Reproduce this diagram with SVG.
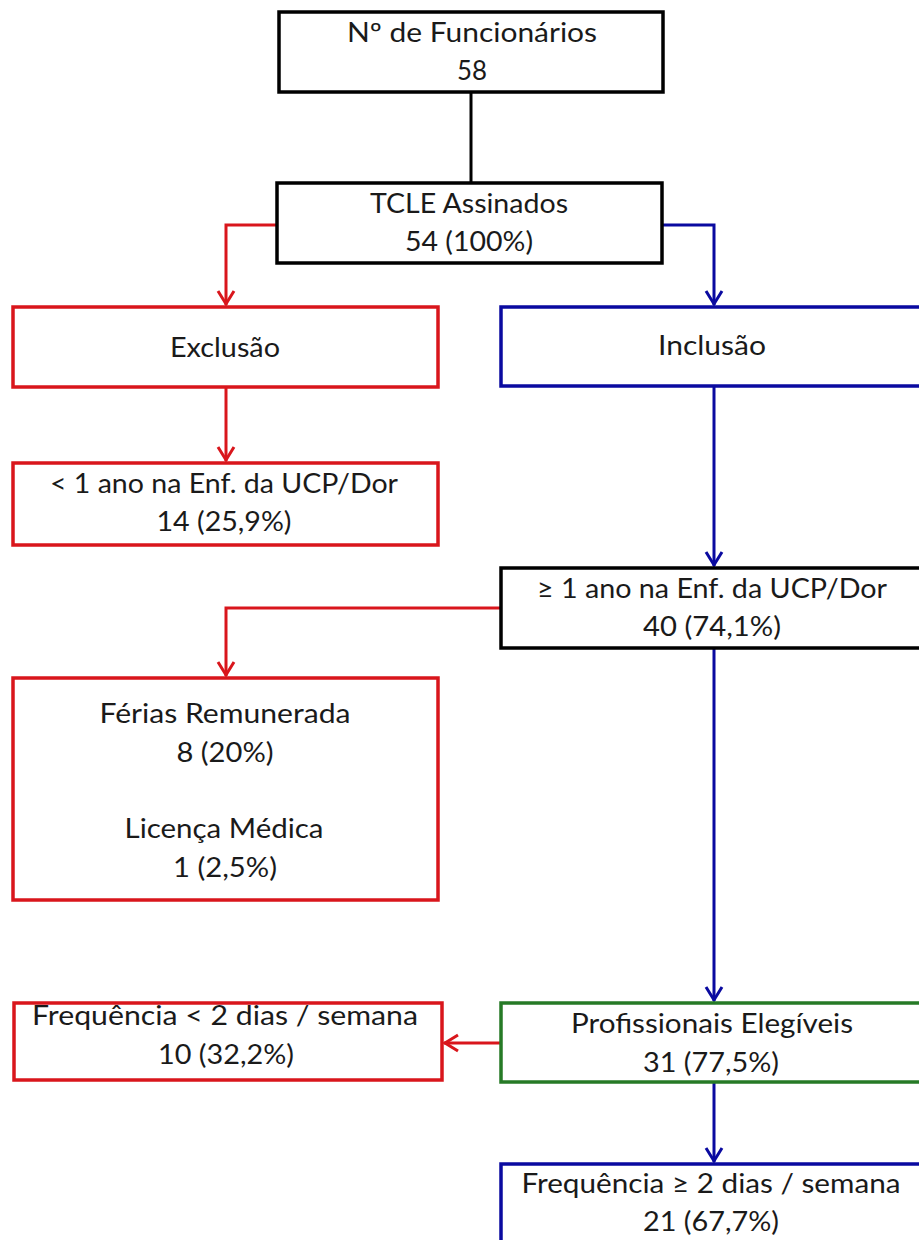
<svg xmlns="http://www.w3.org/2000/svg" width="919" height="1240" viewBox="0 0 919 1240">
<style>
  .t{font-family:Lato,"Open Sans","Liberation Sans",sans-serif;font-size:26px;fill:#1a1a1a;text-anchor:middle}
  .bk{fill:#fff;stroke:#000;stroke-width:3.5}
  .rd{fill:#fff;stroke:#d9161c;stroke-width:3.5}
  .bl{fill:#fff;stroke:#0a0aa0;stroke-width:3.5}
  .gr{fill:#fff;stroke:#267a26;stroke-width:3.5}
  .c{fill:none;stroke-width:3}
  .cr{stroke:#d9161c}
  .cb{stroke:#0a0aa0}
  .ck{stroke:#000}
</style>
<defs>
  <marker id="ar" markerUnits="userSpaceOnUse" markerWidth="30" markerHeight="30" orient="auto" refX="0" refY="0" viewBox="-20 -15 30 30" overflow="visible">
    <path d="M-14,-8 L-1,0 L-14,8" fill="none" stroke="#d9161c" stroke-width="3"/>
  </marker>
  <marker id="ab" markerUnits="userSpaceOnUse" markerWidth="30" markerHeight="30" orient="auto" refX="0" refY="0" viewBox="-20 -15 30 30" overflow="visible">
    <path d="M-14,-8 L-1,0 L-14,8" fill="none" stroke="#0a0aa0" stroke-width="3"/>
  </marker>
</defs>
<rect width="919" height="1240" fill="#fff"/>

<g id="connectors">
  <path class="c ck" d="M471,92 V183"/>
  <path class="c cr" d="M277,225 H226 V305" marker-end="url(#ar)"/>
  <path class="c cb" d="M662,225 H714 V305" marker-end="url(#ab)"/>
  <path class="c cr" d="M226,387 V461" marker-end="url(#ar)"/>
  <path class="c cb" d="M714,386 V566" marker-end="url(#ab)"/>
  <path class="c cr" d="M501,608 H226 V676" marker-end="url(#ar)"/>
  <path class="c cb" d="M714,648 V1001" marker-end="url(#ab)"/>
  <path class="c cr" d="M501,1043 H444" marker-end="url(#ar)"/>
  <path class="c cb" d="M714,1082 V1162" marker-end="url(#ab)"/>
</g>

<g id="n-funcionarios">
  <rect class="bk" x="279" y="12" width="384" height="80"/>
  <text class="t" x="472" y="42" textLength="250" lengthAdjust="spacingAndGlyphs">Nº de Funcionários</text>
  <text class="t" x="472" y="80" textLength="30" lengthAdjust="spacingAndGlyphs">58</text>
</g>

<g id="n-tcle">
  <rect class="bk" x="277" y="183" width="385" height="80"/>
  <text class="t" x="469" y="213" textLength="198" lengthAdjust="spacingAndGlyphs">TCLE Assinados</text>
  <text class="t" x="469" y="251" textLength="128" lengthAdjust="spacingAndGlyphs">54 (100%)</text>
</g>

<g id="n-exclusao">
  <rect class="rd" x="13" y="307" width="425" height="80"/>
  <text class="t" x="225" y="357" textLength="110" lengthAdjust="spacingAndGlyphs">Exclusão</text>
</g>

<g id="n-inclusao">
  <rect class="bl" x="501" y="307" width="426" height="79"/>
  <text class="t" x="712" y="355" textLength="108" lengthAdjust="spacingAndGlyphs">Inclusão</text>
</g>

<g id="n-menos1ano">
  <rect class="rd" x="13" y="463" width="425" height="82"/>
  <text class="t" x="224" y="493" textLength="348" lengthAdjust="spacingAndGlyphs">&lt; 1 ano na Enf. da UCP/Dor</text>
  <text class="t" x="224" y="531" textLength="135" lengthAdjust="spacingAndGlyphs">14 (25,9%)</text>
</g>

<g id="n-mais1ano">
  <rect class="bk" x="501" y="568" width="426" height="80"/>
  <text class="t" x="712" y="598" textLength="350" lengthAdjust="spacingAndGlyphs">≥ 1 ano na Enf. da UCP/Dor</text>
  <text class="t" x="712" y="636" textLength="138" lengthAdjust="spacingAndGlyphs">40 (74,1%)</text>
</g>

<g id="n-ferias">
  <rect class="rd" x="13" y="678" width="425" height="222"/>
  <text class="t" x="225" y="723" textLength="251" lengthAdjust="spacingAndGlyphs">Férias Remunerada</text>
  <text class="t" x="225" y="762" textLength="97" lengthAdjust="spacingAndGlyphs">8 (20%)</text>
  <text class="t" x="224" y="838" textLength="199" lengthAdjust="spacingAndGlyphs">Licença Médica</text>
  <text class="t" x="225" y="877" textLength="104" lengthAdjust="spacingAndGlyphs">1 (2,5%)</text>
</g>

<g id="n-freq-menor">
  <rect class="rd" x="14" y="1003" width="428" height="77"/>
  <text class="t" x="225" y="1025" textLength="386" lengthAdjust="spacingAndGlyphs">Frequência &lt; 2 dias / semana</text>
  <text class="t" x="226" y="1064" textLength="136" lengthAdjust="spacingAndGlyphs">10 (32,2%)</text>
</g>

<g id="n-elegiveis">
  <rect class="gr" x="501" y="1003" width="426" height="79"/>
  <text class="t" x="712" y="1033" textLength="282" lengthAdjust="spacingAndGlyphs">Profissionais Elegíveis</text>
  <text class="t" x="711" y="1072" textLength="136" lengthAdjust="spacingAndGlyphs">31 (77,5%)</text>
</g>

<g id="n-freq-maior">
  <rect class="bl" x="501" y="1164" width="426" height="90"/>
  <text class="t" x="711" y="1193" textLength="379" lengthAdjust="spacingAndGlyphs">Frequência ≥ 2 dias / semana</text>
  <text class="t" x="711" y="1231" textLength="136" lengthAdjust="spacingAndGlyphs">21 (67,7%)</text>
</g>
</svg>
